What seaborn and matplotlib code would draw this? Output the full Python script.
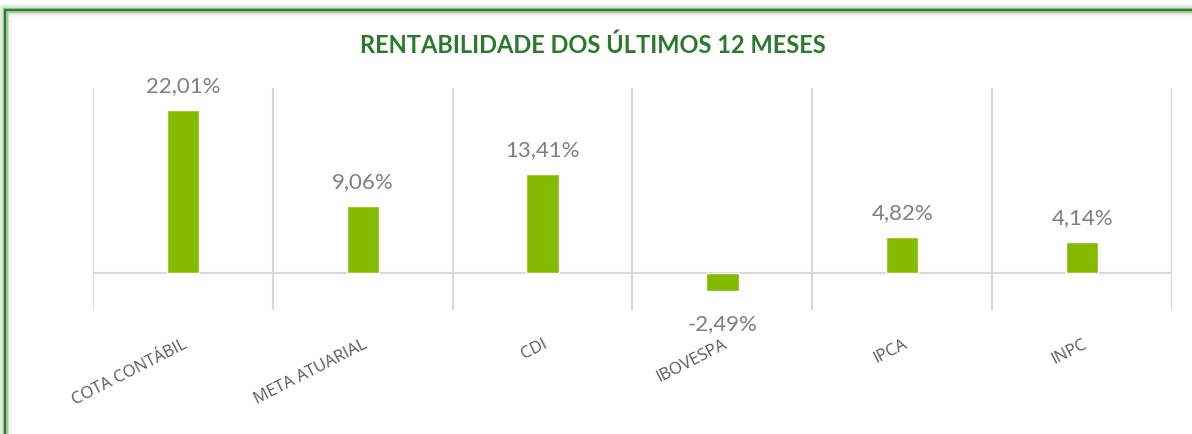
import matplotlib
matplotlib.use("Agg")
import matplotlib.pyplot as plt
import seaborn as sns
import pandas as pd
from matplotlib.patches import Rectangle

# Dados
categorias = ["COTA CONTÁBIL", "META ATUARIAL", "CDI", "IBOVESPA", "IPCA", "INPC"]
rentabilidade = [22.01, 9.06, 13.41, -2.49, 4.82, 4.14]
rotulos = ["22,01%", "9,06%", "13,41%", "-2,49%", "4,82%", "4,14%"]
titulo = "RENTABILIDADE DOS ÚLTIMOS 12 MESES"

df = pd.DataFrame({"categoria": categorias, "valor": rentabilidade})

sns.set_style("white")
plt.rcParams["font.family"] = ["Lato", "DejaVu Sans"]

VERDE_BARRA = "#84bb00"
VERDE_TITULO = "#2b7a2b"
CINZA_GRADE = "#d9d9d9"
CINZA_ROTULO = "#7f7f7f"
CINZA_EIXO = "#595959"

fig = plt.figure(figsize=(11.92, 4.34), dpi=100)
ax = fig.add_axes([93 / 1192, 1 - 310 / 434, (1172 - 93) / 1192, 222 / 434])

sns.barplot(data=df, x="categoria", y="valor", color=VERDE_BARRA,
            width=0.18, saturation=1, ax=ax, zorder=3)

ax.set_ylim(-5, 25)
ax.set_xlim(-0.5, len(categorias) - 0.5)

# grade vertical entre categorias e linha do zero
for i in range(len(categorias) + 1):
    ax.axvline(i - 0.5, color=CINZA_GRADE, lw=1.5, zorder=1)
ax.axhline(0, color=CINZA_GRADE, lw=1.5, zorder=2)

for s in ax.spines.values():
    s.set_visible(False)
ax.set_yticks([])
ax.set_xlabel("")
ax.set_ylabel("")
ax.tick_params(axis="x", length=0, pad=19)
ax.set_xticks(range(len(categorias)))
ax.set_xticklabels(categorias, rotation=27, ha="right", va="top",
                   rotation_mode="anchor", fontsize=12, color=CINZA_EIXO,
                   family=["Open Sans", "DejaVu Sans"])

# rótulos de dados
for i, (v, txt) in enumerate(zip(rentabilidade, rotulos)):
    if v >= 0:
        ax.annotate(txt, (i, v), xytext=(0, 10), textcoords="offset points",
                    ha="center", va="bottom", fontsize=16, color=CINZA_ROTULO)
    else:
        ax.annotate(txt, (i, v), xytext=(0, -16), textcoords="offset points",
                    ha="center", va="top", fontsize=16, color=CINZA_ROTULO)

fig.text(593 / 1192, 1 - 45 / 434, titulo, ha="center", va="center",
         fontsize=17, fontweight="bold", color=VERDE_TITULO)

# moldura verde com sombra
x0 = 5 / 1192
y1 = 1 - 10 / 434
for lw, a in [(9, 0.08), (6, 0.15), (3.5, 0.3)]:
    fig.patches.append(Rectangle((x0, -0.5), 2, y1 + 0.5, transform=fig.transFigure,
                                 fill=False, edgecolor="#3c8a3c", lw=lw, alpha=a))
fig.patches.append(Rectangle((x0, -0.5), 2, y1 + 0.5, transform=fig.transFigure,
                             fill=False, edgecolor="#2f7f2f", lw=1.6))

fig.savefig("out.png", dpi=100)
